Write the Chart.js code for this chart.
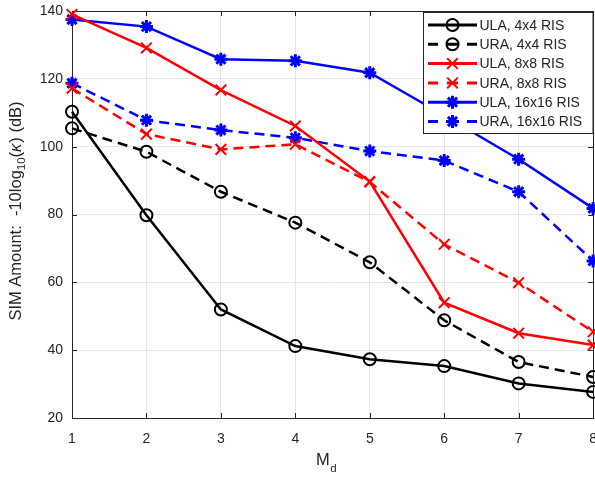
<!DOCTYPE html>
<html>
<head>
<meta charset="utf-8">
<script src="https://cdn.jsdelivr.net/npm/chart.js@4/dist/chart.umd.min.js"></script>
<style>
  html, body { margin: 0; padding: 0; background: #fff; overflow: hidden; }
  #wrap { width: 610px; height: 477px; }
</style>
</head>
<body>
<div id="wrap"><canvas id="simChart"></canvas></div>
<script>
// x values (M_d)
var mdLabels = ["1", "2", "3", "4", "5", "6", "7", "8"];
var yTicks = [20, 40, 60, 80, 100, 120, 140];

// SIM amount, -10log10(kappa) in dB
var ula4 = [110.3, 79.8, 52.0, 41.2, 37.3, 35.3, 30.2, 27.7];
var ura4 = [105.4, 98.5, 86.7, 77.6, 65.9, 48.8, 36.5, 32.1];
var ula8 = [139.0, 129.1, 116.7, 106.1, 89.7, 54.0, 45.0, 41.5];
var ura8 = [117.2, 103.7, 99.2, 100.7, 89.6, 71.2, 59.9, 45.4];
var ula16 = [137.5, 135.4, 125.8, 125.3, 121.8, 109.2, 96.3, 81.8];
var ura16 = [118.7, 107.8, 104.9, 102.6, 98.7, 95.9, 86.7, 66.3];

var seriesNames = ["ULA, 4x4 RIS", "URA, 4x4 RIS", "ULA, 8x8 RIS", "URA, 8x8 RIS", "ULA, 16x16 RIS", "URA, 16x16 RIS"];

var FONT = "'Liberation Sans', Arial, sans-serif";
var AXIS_COLOR = "#262626";
var DASH = [10, 6];

function makeSet(label, data, color, style, dashed) {
  var r = style == "circle" ? 6 : (style == "crossRot" ? 7.5 : 6.5);
  return {
    label: label,
    data: data,
    borderColor: color,
    backgroundColor: "rgba(0,0,0,0)",
    borderWidth: 2.5,
    borderDash: dashed ? DASH : [],
    pointStyle: style,
    pointRadius: r,
    pointBorderWidth: style == "star" ? 3 : 2,
    pointBorderColor: color,
    pointBackgroundColor: "rgba(0,0,0,0)",
    tension: 0,
    fill: false,
    clip: false
  };
}

// box around the axes + inward ticks (MATLAB style)
var framePlugin = {
  id: "frame",
  beforeDatasetsDraw: function(chart) {
    var ctx = chart.ctx, a = chart.chartArea;
    var xs = chart.scales.x, ys = chart.scales.y;
    ctx.save();
    ctx.strokeStyle = AXIS_COLOR;
    ctx.lineWidth = 1;
    ctx.strokeRect(Math.round(a.left) + 0.5, Math.round(a.top) + 0.5,
      Math.round(a.right - a.left), Math.round(a.bottom - a.top));
    ctx.beginPath();
    for (var i = 0; i < mdLabels.length; i++) {
      var px = Math.round(xs.getPixelForValue(i)) + 0.5;
      ctx.moveTo(px, a.bottom); ctx.lineTo(px, a.bottom - 5);
      ctx.moveTo(px, a.top); ctx.lineTo(px, a.top + 5);
    }
    for (var j = 0; j < yTicks.length; j++) {
      var py = Math.round(ys.getPixelForValue(yTicks[j])) + 0.5;
      ctx.moveTo(a.left, py); ctx.lineTo(a.left + 5, py);
      ctx.moveTo(a.right, py); ctx.lineTo(a.right - 5, py);
    }
    ctx.stroke();
    ctx.restore();
  }
};

// axis titles with subscripts
var titlePlugin = {
  id: "titles",
  afterDraw: function(chart) {
    var ctx = chart.ctx;
    ctx.save();
    ctx.fillStyle = AXIS_COLOR;
    ctx.textBaseline = "alphabetic";

    // x title: M_d
    var big = "16.5px " + FONT, small = "11.5px " + FONT, ital = "italic 16.5px " + FONT;
    ctx.font = big;
    var wM = ctx.measureText("M").width;
    ctx.font = small;
    var wd = ctx.measureText("d").width;
    var x0 = 326 - (wM + wd) / 2;
    ctx.font = big;
    ctx.fillText("M", x0, 465);
    ctx.font = small;
    ctx.fillText("d", x0 + wM + 0.5, 472);

    // y title: SIM Amount:  -10log10(κ) (dB)
    var p1 = "SIM Amount:  -10log", p2 = "10", p3 = "(", p4 = "\u03BA", p5 = ") (dB)";
    ctx.font = big;
    var w1 = ctx.measureText(p1).width, w3 = ctx.measureText(p3).width, w5 = ctx.measureText(p5).width;
    ctx.font = small;
    var w2 = ctx.measureText(p2).width;
    ctx.font = ital;
    var w4 = ctx.measureText(p4).width + 1;
    var total = w1 + w2 + w3 + w4 + w5;
    ctx.translate(21, 211);
    ctx.rotate(-Math.PI / 2);
    var s = -total / 2;
    ctx.font = big;
    ctx.fillText(p1, s, 0);
    ctx.font = small;
    ctx.fillText(p2, s + w1, 4);
    ctx.font = big;
    ctx.fillText(p3, s + w1 + w2, 0);
    ctx.font = ital;
    ctx.fillText(p4, s + w1 + w2 + w3, 0);
    ctx.font = big;
    ctx.fillText(p5, s + w1 + w2 + w3 + w4, 0);
    ctx.restore();
  }
};

// legend box with line + marker samples
var legendPlugin = {
  id: "boxLegend",
  afterDatasetsDraw: function(chart) {
    var ctx = chart.ctx;
    var bx = 423.5, by = 12.5, bw = 169.5, bh = 121;
    ctx.save();
    ctx.fillStyle = "#fff";
    ctx.fillRect(bx, by, bw, bh);
    ctx.strokeStyle = AXIS_COLOR;
    ctx.lineWidth = 1;
    ctx.strokeRect(bx, by, bw, bh);
    ctx.font = "14px " + FONT;
    ctx.textBaseline = "middle";
    var sets = chart.data.datasets;
    for (var i = 0; i < sets.length; i++) {
      var ds = sets[i];
      var cy = 25 + i * 19.3;
      ctx.strokeStyle = ds.borderColor;
      ctx.lineWidth = 3;
      ctx.beginPath();
      if (ds.borderDash.length) {
        ctx.moveTo(428, cy); ctx.lineTo(438, cy);
        ctx.moveTo(447, cy); ctx.lineTo(458, cy);
        ctx.moveTo(467, cy); ctx.lineTo(477, cy);
      } else {
        ctx.moveTo(428, cy); ctx.lineTo(477, cy);
      }
      ctx.stroke();
      ctx.fillStyle = "rgba(0,0,0,0)";
      ctx.lineWidth = ds.pointBorderWidth;
      Chart.helpers.drawPoint(ctx, {
        pointStyle: ds.pointStyle,
        radius: ds.pointRadius,
        borderWidth: ds.pointBorderWidth,
        rotation: 0
      }, 452.5, cy);
      ctx.fillStyle = AXIS_COLOR;
      ctx.fillText(ds.label, 479.5, cy + 1);
    }
    ctx.restore();
  }
};

var simConfig = {
  type: "line",
  data: {
    labels: mdLabels,
    datasets: [
      makeSet(seriesNames[0], ula4, "#000000", "circle", false),
      makeSet(seriesNames[1], ura4, "#000000", "circle", true),
      makeSet(seriesNames[2], ula8, "#ff0000", "crossRot", false),
      makeSet(seriesNames[3], ura8, "#ff0000", "crossRot", true),
      makeSet(seriesNames[4], ula16, "#0000ff", "star", false),
      makeSet(seriesNames[5], ura16, "#0000ff", "star", true)
    ]
  },
  options: {
    responsive: true,
    maintainAspectRatio: false,
    animation: false,
    layout: { padding: { top: 11, left: 0, right: 0, bottom: 0 } },
    plugins: {
      legend: { display: false },
      tooltip: { enabled: false }
    },
    scales: {
      x: {
        type: "category",
        offset: false,
        grid: { color: "#e6e6e6", drawTicks: false },
        border: { display: false },
        ticks: { color: AXIS_COLOR, font: { family: FONT, size: 14 }, padding: 13, maxRotation: 0 },
        afterFit: function(s) { s.height = 59; }
      },
      y: {
        min: 20,
        max: 140,
        grid: { color: "#e6e6e6", drawTicks: false },
        border: { display: false },
        ticks: { stepSize: 20, color: AXIS_COLOR, font: { family: FONT, size: 14 }, padding: 9 },
        afterFit: function(s) { s.width = 72; s.paddingTop = 0; s.paddingBottom = 0; }
      }
    }
  },
  plugins: [framePlugin, titlePlugin, legendPlugin]
};

var simChart = new Chart(document.getElementById("simChart"), simConfig);
</script>
</body>
</html>
